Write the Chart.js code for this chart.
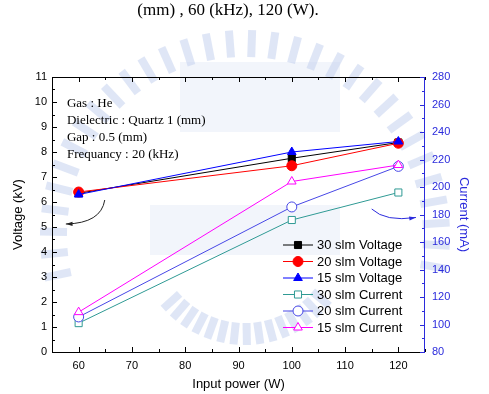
<!DOCTYPE html>
<html>
<head>
<meta charset="utf-8">
<script src="https://cdn.jsdelivr.net/npm/chart.js@4.4.1/dist/chart.umd.min.js"></script>
<style>
  html, body { margin: 0; padding: 0; background: #fff; }
  #wrap { width: 489px; height: 394px; position: relative; }
</style>
</head>
<body>
<div id="wrap"><canvas id="chart"></canvas></div>
<script>
// ---- data ----
const powers = [60, 100, 120];
const volt30 = [6.35, 7.75, 8.38];
const volt20 = [6.4, 7.45, 8.35];
const volt15 = [6.3, 8.0, 8.42];
const curr30 = [101, 176, 196];
const curr20 = [105.5, 185.5, 215];
const curr15 = [109, 204, 216];

const seriesLabels = ['30 slm Voltage', '20 slm Voltage', '15 slm Voltage',
                      '30 slm Current', '20 slm Current', '15 slm Current'];
const xTicks = [60, 70, 80, 90, 100, 110, 120];
const voltTicks = [0, 1, 2, 3, 4, 5, 6, 7, 8, 9, 10, 11];
const currTicks = [80, 100, 120, 140, 160, 180, 200, 220, 240, 260, 280];

const notes = ['Gas : He', 'Dielectric : Quartz 1 (mm)', 'Gap : 0.5 (mm)', 'Frequancy : 20 (kHz)'];
const caption = '(mm) , 60 (kHz), 120 (W).';

const BLUE_AXIS = '#2b2bdc';

function pts(ys) {
    return powers.map((p, i) => ({ x: p, y: ys[i] }));
}

// Faint seal watermark behind the plot (rays around the top, a few blocks inside)
const watermark = {
    id: 'watermark',
    beforeDraw(chart) {
        const ctx = chart.ctx;
        const cx = 245, cy = 235;
        ctx.save();
        ctx.strokeStyle = 'rgba(196, 210, 238, 0.55)';
        ctx.lineWidth = 8;
        for (let a = 168; a <= 372; a += 6.5) {
            const r = a * Math.PI / 180;
            ctx.beginPath();
            ctx.moveTo(cx + Math.cos(r) * 178, cy + Math.sin(r) * 178);
            ctx.lineTo(cx + Math.cos(r) * 205, cy + Math.sin(r) * 205);
            ctx.stroke();
        }
        for (let a = 40; a <= 140; a += 7) {
            const r = a * Math.PI / 180;
            ctx.beginPath();
            ctx.moveTo(cx + Math.cos(r) * 88, cy + Math.sin(r) * 88);
            ctx.lineTo(cx + Math.cos(r) * 110, cy + Math.sin(r) * 110);
            ctx.stroke();
        }
        ctx.fillStyle = 'rgba(196, 210, 238, 0.22)';
        ctx.fillRect(180, 62, 160, 70);
        ctx.fillRect(150, 205, 190, 50);
        ctx.restore();
    }
};

// Frame, inward ticks, notes, arrows, legend and caption
const decorations = {
    id: 'decorations',
    afterDraw(chart) {
        const ctx = chart.ctx;
        const ca = chart.chartArea;
        const sx = chart.scales.x, sy = chart.scales.y, sc = chart.scales.y1;
        ctx.save();
        ctx.lineWidth = 1;

        // frame
        ctx.strokeStyle = '#000';
        ctx.beginPath();
        ctx.moveTo(ca.right, ca.top + 0.5);
        ctx.lineTo(ca.left + 0.5, ca.top + 0.5);
        ctx.lineTo(ca.left + 0.5, ca.bottom + 0.5);
        ctx.lineTo(ca.right, ca.bottom + 0.5);
        ctx.stroke();
        ctx.strokeStyle = BLUE_AXIS;
        ctx.beginPath();
        ctx.moveTo(ca.right - 0.5, ca.top);
        ctx.lineTo(ca.right - 0.5, ca.bottom + 1);
        ctx.stroke();

        // x ticks bottom and top
        ctx.strokeStyle = '#000';
        ctx.beginPath();
        for (let v = 55; v <= 125; v += 5) {
            const len = (v % 10 === 0) ? 5 : 3;
            const px = Math.round(sx.getPixelForValue(v)) + 0.5;
            ctx.moveTo(px, ca.bottom);
            ctx.lineTo(px, ca.bottom - len);
            ctx.moveTo(px, ca.top);
            ctx.lineTo(px, ca.top + len);
        }
        // left y ticks
        for (let v = 0; v <= 11; v += 0.5) {
            const len = (v % 1 === 0) ? 5 : 3;
            const py = Math.round(sy.getPixelForValue(v)) + 0.5;
            ctx.moveTo(ca.left, py);
            ctx.lineTo(ca.left + len, py);
        }
        ctx.stroke();
        // right y1 ticks
        ctx.strokeStyle = BLUE_AXIS;
        ctx.beginPath();
        for (let v = 80; v <= 280; v += 10) {
            const len = (v % 20 === 0) ? 5 : 3;
            const py = Math.round(sc.getPixelForValue(v)) + 0.5;
            ctx.moveTo(ca.right, py);
            ctx.lineTo(ca.right - len, py);
        }
        ctx.stroke();

        // experiment notes
        ctx.fillStyle = '#000';
        ctx.font = '13px "Liberation Serif", "Times New Roman", serif';
        ctx.textAlign = 'left';
        ctx.textBaseline = 'middle';
        notes.forEach((t, i) => {
            ctx.fillText(t, sx.getPixelForValue(57.8), sy.getPixelForValue(9.92) + i * 17);
        });

        // curved arrows pointing to each axis
        const arrow = (p0, p1, p2, color) => {
            const a = { x: sx.getPixelForValue(p0[0]), y: sy.getPixelForValue(p0[1]) };
            const c = { x: sx.getPixelForValue(p1[0]), y: sy.getPixelForValue(p1[1]) };
            const b = { x: sx.getPixelForValue(p2[0]), y: sy.getPixelForValue(p2[1]) };
            ctx.strokeStyle = color;
            ctx.fillStyle = color;
            ctx.beginPath();
            ctx.moveTo(a.x, a.y);
            ctx.quadraticCurveTo(c.x, c.y, b.x, b.y);
            ctx.stroke();
            const ang = Math.atan2(b.y - c.y, b.x - c.x);
            ctx.beginPath();
            ctx.moveTo(b.x, b.y);
            ctx.lineTo(b.x - 7 * Math.cos(ang - 0.3), b.y - 7 * Math.sin(ang - 0.3));
            ctx.lineTo(b.x - 7 * Math.cos(ang + 0.3), b.y - 7 * Math.sin(ang + 0.3));
            ctx.closePath();
            ctx.fill();
        };
        arrow([64.9, 6.08], [64.2, 5.15], [57.6, 5.12], '#222');
        arrow([115.0, 5.72], [117.6, 5.2], [123.3, 5.38], BLUE_AXIS);

        // legend
        ctx.font = '13px "Liberation Sans", Arial, sans-serif';
        chart.data.datasets.forEach((ds, i) => {
            const y = 245 + i * 16.5;
            ctx.strokeStyle = ds.borderColor;
            ctx.lineWidth = 1;
            ctx.beginPath();
            ctx.moveTo(283, y);
            ctx.lineTo(313, y);
            ctx.stroke();
            ctx.fillStyle = ds.pointBackgroundColor;
            ctx.strokeStyle = ds.borderColor;
            Chart.helpers.drawPoint(ctx, {
                pointStyle: ds.pointStyle,
                radius: ds.pointRadius,
                borderWidth: ds.pointBorderWidth,
                rotation: 0
            }, 298, y);
            ctx.fillStyle = '#000';
            ctx.fillText(ds.label, 317, y + 0.5);
        });

        // caption left over from the page above
        ctx.fillStyle = '#000';
        ctx.font = '17px "Liberation Serif", "Times New Roman", serif';
        ctx.textAlign = 'center';
        ctx.fillText(caption, 228, 11);
        ctx.restore();
    }
};

function voltageSet(label, data, color, style, order) {
    return {
        label, data: pts(data), yAxisID: 'y', order,
        borderColor: color, backgroundColor: color,
        pointBackgroundColor: color, pointBorderColor: color,
        pointStyle: style, pointRadius: 5, pointBorderWidth: 1,
        borderWidth: 1, tension: 0
    };
}
function currentSet(label, data, color, style, order) {
    return {
        label, data: pts(data), yAxisID: 'y1', order,
        borderColor: color, backgroundColor: '#fff',
        pointBackgroundColor: '#fff', pointBorderColor: color,
        pointStyle: style, pointRadius: 5, pointBorderWidth: 1,
        borderWidth: 1, tension: 0
    };
}

const ctx = document.getElementById('chart').getContext('2d');
new Chart(ctx, {
    type: 'line',
    data: {
        datasets: [
            voltageSet(seriesLabels[0], volt30, '#000000', 'rect', 3),
            voltageSet(seriesLabels[1], volt20, '#ff0000', 'circle', 2),
            voltageSet(seriesLabels[2], volt15, '#0000ff', 'triangle', 1),
            currentSet(seriesLabels[3], curr30, '#2f9a94', 'rect', 6),
            currentSet(seriesLabels[4], curr20, '#4747e6', 'circle', 5),
            currentSet(seriesLabels[5], curr15, '#ff00ff', 'triangle', 4)
        ]
    },
    options: {
        responsive: true,
        maintainAspectRatio: false,
        animation: false,
        layout: { padding: { top: 77, left: 0, right: 0, bottom: 0 } },
        plugins: {
            legend: { display: false },
            tooltip: { enabled: false }
        },
        scales: {
            x: {
                type: 'linear',
                min: 55,
                max: 125,
                afterBuildTicks: s => { s.ticks = xTicks.map(v => ({ value: v })); },
                afterFit: s => { s.height = 42; },
                grid: { display: false, drawTicks: false },
                border: { display: false },
                ticks: { color: '#000', padding: 7, font: { size: 11, family: '"Liberation Sans", Arial' } },
                title: { display: true, text: 'Input power (W)', color: '#000',
                         font: { size: 13, family: '"Liberation Sans", Arial' }, padding: { top: 0, bottom: 2 } }
            },
            y: {
                type: 'linear',
                position: 'left',
                min: 0,
                max: 11,
                afterBuildTicks: s => { s.ticks = voltTicks.map(v => ({ value: v })); },
                afterFit: s => { s.width = 52; },
                grid: { display: false, drawTicks: false },
                border: { display: false },
                ticks: { color: '#000', padding: 5, font: { size: 11, family: '"Liberation Sans", Arial' } },
                title: { display: true, text: 'Voltage (kV)', color: '#000',
                         font: { size: 13, family: '"Liberation Sans", Arial' }, padding: { top: 11, bottom: 0 } }
            },
            y1: {
                type: 'linear',
                position: 'right',
                min: 80,
                max: 280,
                afterBuildTicks: s => { s.ticks = currTicks.map(v => ({ value: v })); },
                afterFit: s => { s.width = 64; },
                grid: { display: false, drawTicks: false },
                border: { display: false },
                ticks: { color: BLUE_AXIS, padding: 7, font: { size: 11, family: '"Liberation Sans", Arial' } },
                title: { display: true, text: 'Current (mA)', color: BLUE_AXIS,
                         font: { size: 13, family: '"Liberation Sans", Arial' }, padding: { top: 18, bottom: 0 } }
            }
        }
    },
    plugins: [watermark, decorations]
});
</script>
</body>
</html>
